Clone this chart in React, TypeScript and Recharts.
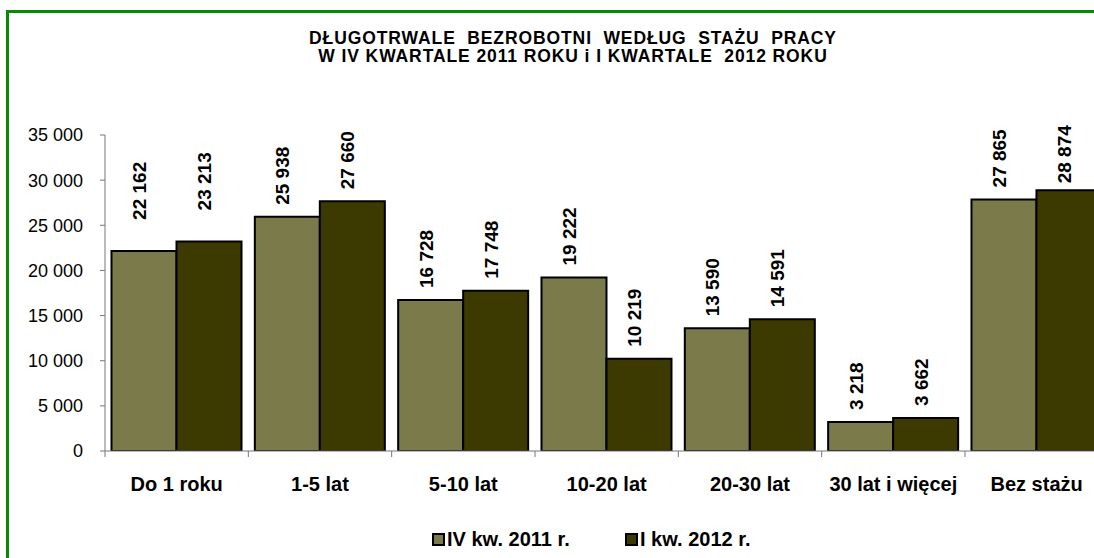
import React from "react";
import { BarChart, Bar, XAxis, YAxis, LabelList } from "recharts";

const categories = ["Do 1 roku", "1-5 lat", "5-10 lat", "10-20 lat", "20-30 lat", "30 lat i więcej", "Bez stażu"];
const q4_2011 = [22162, 25938, 16728, 19222, 13590, 3218, 27865];
const q1_2012 = [23213, 27660, 17748, 10219, 14591, 3662, 28874];
const yTicks = [0, 5000, 10000, 15000, 20000, 25000, 30000, 35000];
const seriesNames = ["IV kw. 2011 r.", "I kw. 2012 r."];
const titleLines = ["DŁUGOTRWALE  BEZROBOTNI  WEDŁUG  STAŻU  PRACY", "W IV KWARTALE 2011 ROKU i I KWARTALE  2012 ROKU"];

const data = categories.map((c, i) => ({ cat: c, a: q4_2011[i], b: q1_2012[i] }));

const FONT = "'Liberation Sans', Arial, Helvetica, sans-serif";
const LIGHT = "#7a7a4a";
const DARK = "#3c3a00";
const CHART_W = 1120;
const CHART_H = 558;
const PLOT_LEFT = 105;
const PLOT_RIGHT = 1108.3;
const PLOT_TOP = 135;
const PLOT_BOTTOM = 451;
const XAXIS_H = 40;
const BAND = (PLOT_RIGHT - PLOT_LEFT) / categories.length;

const fmt = (v: number) => String(v).replace(/\B(?=(\d{3})+(?!\d))/g, " ");

const makeLabel = () => (props: any) => {
  const { x, y, width, value, index } = props;
  const text = fmt(Number(value));
  const len = text.replace(/ /g, "").length * 10.6 + (text.length - text.replace(/ /g, "").length) * 5.3;
  const gap = index === 0 ? 31 : 12;
  let start = Number(y) - gap;
  start = Math.max(start, PLOT_TOP - 10 + len);
  const cx = Number(x) + Number(width) / 2 + 2;
  return (
    <text
      x={cx}
      y={start}
      transform={`rotate(-90 ${cx} ${start})`}
      textAnchor="start"
      fontFamily={FONT}
      fontWeight="bold"
      fontSize={19}
      fill="#000"
    >
      {text}
    </text>
  );
};

const CatTick = (props: any) => {
  const { x, payload } = props;
  const bx = Number(x) - BAND / 2;
  return (
    <g>
      <line x1={bx} y1={PLOT_BOTTOM} x2={bx} y2={PLOT_BOTTOM + 6} stroke="#777" strokeWidth={1} />
      <text x={x} y={PLOT_BOTTOM + 40} textAnchor="middle" fontFamily={FONT} fontWeight="bold" fontSize={20} fill="#000">
        {payload.value}
      </text>
    </g>
  );
};

export default function App() {
  return (
    <div
      style={{
        position: "fixed",
        left: 0,
        top: 0,
        width: 1094,
        height: 558,
        overflow: "hidden",
        background: "#fff",
        fontFamily: FONT,
      }}
    >
      <div
        style={{
          position: "absolute",
          left: 6,
          top: 10,
          width: 1200,
          height: 700,
          border: "3px solid #078a07",
          boxSizing: "border-box",
        }}
      />
      <div style={{ position: "absolute", left: 0, top: 0 }}>
        <BarChart
          width={CHART_W}
          height={CHART_H}
          data={data}
          margin={{ top: PLOT_TOP, right: CHART_W - PLOT_RIGHT, bottom: CHART_H - PLOT_BOTTOM - XAXIS_H, left: 0 }}
          barCategoryGap={6.5}
          barGap={0}
        >
          <XAxis
            dataKey="cat"
            height={XAXIS_H}
            axisLine={{ stroke: "#777", strokeWidth: 1 }}
            tickLine={false}
            tick={<CatTick />}
            interval={0}
          />
          <YAxis
            width={PLOT_LEFT}
            domain={[0, 35000]}
            ticks={yTicks}
            allowDataOverflow
            axisLine={{ stroke: "#777", strokeWidth: 1 }}
            tickLine={{ stroke: "#777", strokeWidth: 1 }}
            tickSize={5}
            tickMargin={17}
            tick={{ fill: "#000", fontSize: 18, fontFamily: FONT }}
            tickFormatter={(v: number) => fmt(v)}
          />
          <Bar dataKey="a" name={seriesNames[0]} fill={LIGHT} stroke="#000" strokeWidth={2} isAnimationActive={false}>
            <LabelList dataKey="a" content={makeLabel()} />
          </Bar>
          <Bar dataKey="b" name={seriesNames[1]} fill={DARK} stroke="#000" strokeWidth={2} isAnimationActive={false}>
            <LabelList dataKey="b" content={makeLabel()} />
          </Bar>
        </BarChart>
      </div>
      <div
        style={{
          position: "absolute",
          left: 0,
          width: 1146,
          top: 29,
          textAlign: "center",
          fontWeight: "bold",
          fontSize: 17.5,
          lineHeight: "18px",
          whiteSpace: "pre",
          color: "#000",
          letterSpacing: 0.9,
        }}
      >
        <div>{titleLines[0]}</div>
        <div>{titleLines[1]}</div>
      </div>
      {[0, 1].map((i) => (
        <div
          key={i}
          style={{
            position: "absolute",
            left: i === 0 ? 432 : 625,
            top: 528,
            display: "flex",
            alignItems: "center",
            fontWeight: "bold",
            fontSize: 20,
            color: "#000",
            whiteSpace: "pre",
          }}
        >
          <span
            style={{
              display: "inline-block",
              width: 9,
              height: 9,
              border: "2px solid #000",
              background: i === 0 ? LIGHT : DARK,
              marginRight: 2,
            }}
          />
          <span>{seriesNames[i]}</span>
        </div>
      ))}
    </div>
  );
}
